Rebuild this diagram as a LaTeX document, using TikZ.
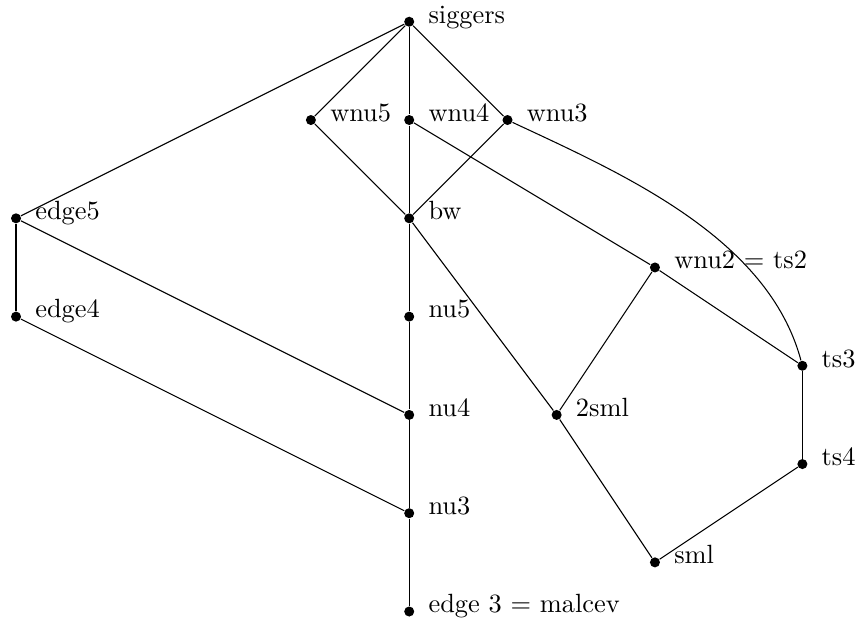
\documentclass[tikz,border=0pt]{standalone}
\begin{document}
\begin{tikzpicture}[x=1.31cm,y=-1.31cm,
  dot/.style={circle,fill=black,inner sep=0pt,minimum size=3.8pt},
  lbl/.style={anchor=base west,label distance=1.7pt,yshift=-0.5pt},
  edge/.style={line width=0.4pt}]
\useasboundingbox (-0.163,-0.221) rectangle (8.576,6.081);
\node[dot,label={[lbl]0:siggers}] (s) at (4,0) {};
\node[dot,label={[lbl]0:wnu5}] (w5) at (3,1) {};
\node[dot,label={[lbl]0:wnu4}] (w4) at (4,1) {};
\node[dot,label={[lbl]0:wnu3}] (w3) at (5,1) {};
\node[dot,label={[lbl]0:edge5}] (e5) at (0,2) {};
\node[dot,label={[lbl]0:bw}] (bw) at (4,2) {};
\node[dot,label={[lbl]0:wnu2 $=$ ts2}] (w2) at (6.5,2.5) {};
\node[dot,label={[lbl]0:edge4}] (e4) at (0,3) {};
\node[dot,label={[lbl]0:nu5}] (n5) at (4,3) {};
\node[dot,label={[lbl]0:ts3}] (t3) at (8,3.5) {};
\node[dot,label={[lbl]0:nu4}] (n4) at (4,4) {};
\node[dot,label={[lbl]0:2sml}] (s2) at (5.5,4) {};
\node[dot,label={[lbl]0:ts4}] (t4) at (8,4.5) {};
\node[dot,label={[lbl]0:nu3}] (n3) at (4,5) {};
\node[dot,label={[lbl]0:sml}] (sm) at (6.5,5.5) {};
\node[dot,label={[lbl]0:edge 3 $=$ malcev}] (m) at (4,6) {};
\draw[edge] (s) -- (e5);
\draw[edge] (s) -- (w5);
\draw[edge] (s) -- (w4);
\draw[edge] (s) -- (w3);
\draw[edge] (w5) -- (bw);
\draw[edge] (w4) -- (bw);
\draw[edge] (w3) -- (bw);
\draw[edge] (w4) -- (w2);
\draw[edge] (w3) .. controls (6.178,1.55) and (7.65,2.196) .. (t3);
\draw[edge] (w2) -- (t3);
\draw[edge] (w2) -- (s2);
\draw[edge] (bw) -- (s2);
\draw[edge] (bw) -- (n5);
\draw[edge] (n5) -- (n4);
\draw[edge] (n4) -- (n3);
\draw[edge] (n3) -- (m);
\draw[edge] (e5) -- (e4);
\draw[edge] (e5) -- (n4);
\draw[edge] (e4) -- (n3);
\draw[edge] (t3) -- (t4);
\draw[edge] (t4) -- (sm);
\draw[edge] (s2) -- (sm);
\end{tikzpicture}
\end{document}
